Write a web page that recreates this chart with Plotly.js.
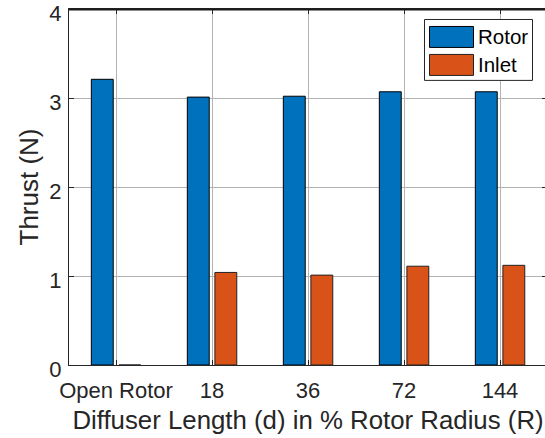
<!DOCTYPE html>
<html>
<head>
<meta charset="utf-8">
<script src="https://cdn.plot.ly/plotly-3.0.1.min.js"></script>
<style>
html,body{margin:0;padding:0;overflow:hidden;background:#fff;width:545px;height:438px;}
#chart{width:547px;height:438px;}
</style>
</head>
<body>
<div id="chart"></div>
<script>
// ---- data ----
const categories = ["Open Rotor", "18", "36", "72", "144"];
const rotorThrust = [3.21, 3.01, 3.02, 3.07, 3.07];
const inletThrust = [0, 1.04, 1.01, 1.11, 1.12];
const seriesNames = ["Rotor", "Inlet"];
const yTicks = [0, 1, 2, 3, 4];

// ---- layout geometry ----
const W = 547, H = 438;
const M = {l: 69, r: 0, t: 9, b: 72.5};
const plotW = W - M.l - M.r, plotH = H - M.t - M.b;
const xLeft = 0.5104, pxPerCat = 96;
const xRange = [xLeft, xLeft + plotW / pxPerCat];
const xpos = categories.map((c, i) => i + 1);

const FONT = "Liberation Sans, Arial, Helvetica, sans-serif";
const AX = "#262626";
const BLUE = "#0072BD", ORANGE = "#D95319";

const px2x = p => (p - M.l) / plotW;
const py2y = p => (M.t + plotH - p) / plotH;

const traces = [
  {type: "bar", name: seriesNames[0], x: xpos, y: rotorThrust,
   width: 0.228, offset: -0.257,
   marker: {color: BLUE, line: {color: "#000", width: 1}}},
  {type: "bar", name: seriesNames[1], x: xpos, y: inletThrust,
   width: 0.228, offset: 0.03,
   marker: {color: ORANGE, line: {color: "#222", width: 1}}}
];

const shapes = [
  // axes box (top line)
  {type: "line", xref: "paper", yref: "paper", x0: 0, x1: 1, y0: py2y(9.5), y1: py2y(9.5),
   line: {color: "#1a1a1a", width: 2}, layer: "above"},
  // manual MATLAB-style legend
  {type: "rect", xref: "paper", yref: "paper", x0: px2x(424.5), x1: px2x(532.5), y0: py2y(80.5), y1: py2y(19.5),
   fillcolor: "#fff", line: {color: "#262626", width: 1}, layer: "above"},
  {type: "rect", xref: "paper", yref: "paper", x0: px2x(429.5), x1: px2x(473.5), y0: py2y(47.5), y1: py2y(26.5),
   fillcolor: BLUE, line: {color: "#000", width: 1}, layer: "above"},
  {type: "rect", xref: "paper", yref: "paper", x0: px2x(429.5), x1: px2x(473.5), y0: py2y(75.5), y1: py2y(54.5),
   fillcolor: ORANGE, line: {color: "#222", width: 1}, layer: "above"}
];
const annotations = [
  {xref: "paper", yref: "paper", x: px2x(475.5), y: py2y(37), xanchor: "left", yanchor: "middle",
   text: seriesNames[0], showarrow: false, font: {family: FONT, size: 20.5, color: "#000"}},
  {xref: "paper", yref: "paper", x: px2x(475.5), y: py2y(65), xanchor: "left", yanchor: "middle",
   text: seriesNames[1], showarrow: false, font: {family: FONT, size: 20.5, color: "#000"}}
];

const layout = {
  width: W, height: H,
  margin: M,
  paper_bgcolor: "#fff", plot_bgcolor: "#fff",
  showlegend: false,
  barmode: "group",
  font: {family: FONT, color: AX},
  xaxis: {
    range: xRange, tickmode: "array", tickvals: xpos, ticktext: categories,
    showgrid: true, gridcolor: "#b3b3b3", gridwidth: 1,
    showline: true, linecolor: AX, linewidth: 1, mirror: "ticks",
    ticks: "inside", ticklen: 5, tickcolor: AX,
    ticklabelstandoff: 6, ticklabeloverflow: "allow",
    tickfont: {family: FONT, size: 22, color: AX},
    title: {text: "Diffuser Length (d) in % Rotor Radius (R)", font: {family: FONT, size: 25.8, color: AX}, standoff: 8},
    zeroline: false, automargin: false, fixedrange: true
  },
  yaxis: {
    range: [0, 4], tickmode: "array", tickvals: yTicks, ticktext: yTicks.map(String),
    showgrid: true, gridcolor: "#b3b3b3", gridwidth: 1,
    showline: true, linecolor: AX, linewidth: 1, mirror: "ticks",
    ticks: "inside", ticklen: 5, tickcolor: AX,
    ticklabelstandoff: 2, ticklabeloverflow: "allow", ticklabelshift: 4,
    tickfont: {family: FONT, size: 22, color: AX},
    title: {text: "Thrust (N)", font: {family: FONT, size: 26, color: AX}, standoff: 3},
    zeroline: false, automargin: false, fixedrange: true
  },
  shapes: shapes,
  annotations: annotations
};

Plotly.newPlot("chart", traces, layout, {staticPlot: true, displayModeBar: false});
</script>
</body>
</html>
